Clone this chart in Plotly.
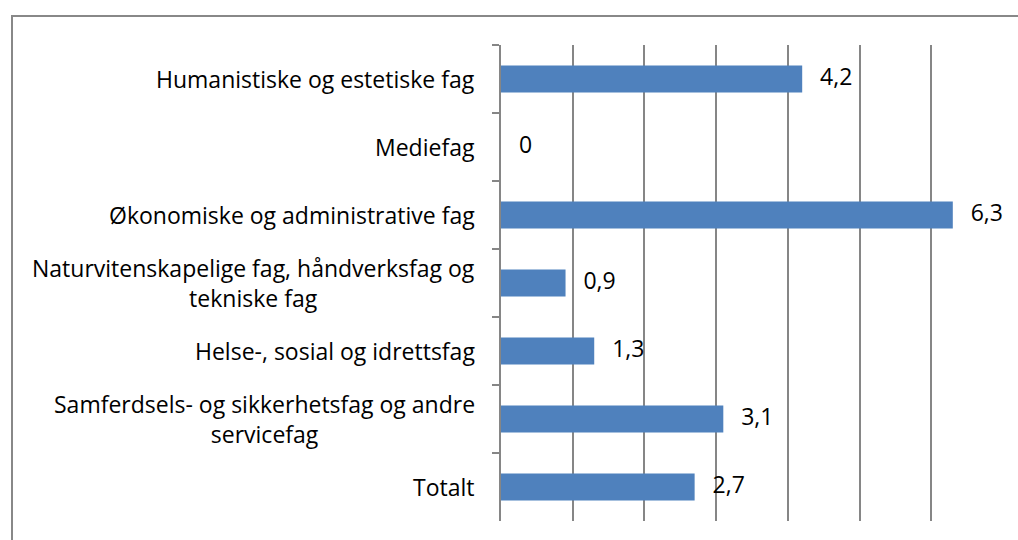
import plotly.graph_objects as go

categories = [
    "Humanistiske og estetiske fag",
    "Mediefag",
    "Økonomiske og administrative fag",
    "Naturvitenskapelige fag, håndverksfag og<br>tekniske fag",
    "Helse-, sosial og idrettsfag",
    "Samferdsels- og sikkerhetsfag og andre<br>servicefag",
    "Totalt",
]
values = [4.2, 0, 6.3, 0.9, 1.3, 3.1, 2.7]
value_labels = ["4,2", "0", "6,3", "0,9", "1,3", "3,1", "2,7"]

FONT = "Open Sans"
FS = 23

fig = go.Figure()
fig.add_trace(go.Bar(
    y=categories, x=values, orientation="h",
    marker=dict(color="#4F81BD", line=dict(width=0)),
    hoverinfo="skip",
))
fig.add_trace(go.Scatter(
    y=categories, x=values, mode="text",
    text=["   " + t for t in value_labels],
    textposition="middle right",
    textfont=dict(family=FONT, size=FS, color="#000000"),
    hoverinfo="skip",
))

# category labels as centered multi-line annotations, right-anchored at the axis
for cat in categories:
    fig.add_annotation(
        x=0, xref="paper", y=cat, yref="y",
        text=cat, showarrow=False,
        xanchor="right", yanchor="middle", align="center",
        xshift=-24,
        font=dict(family=FONT, size=FS, color="#000000"),
    )

fig.update_layout(
    width=1018, height=540,
    margin=dict(l=501, r=15, t=45, b=19),
    paper_bgcolor="white", plot_bgcolor="white",
    showlegend=False,
    bargap=0.6,
    font=dict(family=FONT, size=FS, color="#000000"),
    xaxis=dict(
        range=[0, 7], dtick=1, tick0=0,
        showgrid=True, gridcolor="#868686", gridwidth=1.5,
        showticklabels=False, zeroline=False, showline=False, ticks="",
    ),
    yaxis=dict(
        autorange="reversed",
        type="category",
        showline=True, linecolor="#868686", linewidth=1.5,
        ticks="outside", ticklen=7, tickcolor="#868686", tickwidth=1.5,
        tickson="boundaries",
        showgrid=False,
        showticklabels=False,
    ),
    shapes=[dict(
        type="rect", xref="paper", yref="paper",
        x0=(12 - 501) / 502, x1=2.0,
        y0=-1.0, y1=1 + (45 - 16) / 476,
        line=dict(color="#888888", width=2), fillcolor="rgba(0,0,0,0)",
        layer="below",
    )],
)

fig.write_html(
    "out.html",
    config={"displayModeBar": False},
    post_script="document.body.style.margin='0';document.body.style.padding='0';document.body.style.overflow='hidden';",
)
